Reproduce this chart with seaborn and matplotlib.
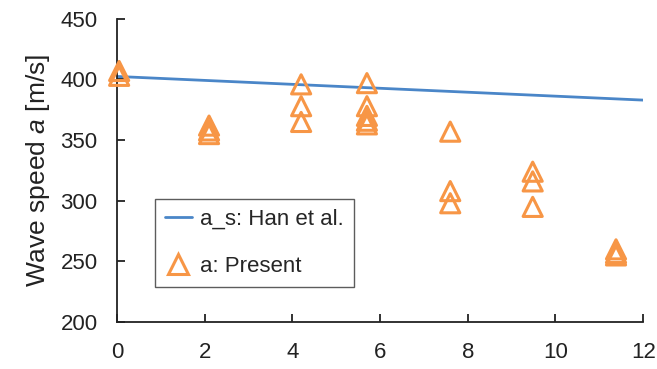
import matplotlib
matplotlib.use("Agg")
import matplotlib.pyplot as plt
import pandas as pd
import seaborn as sns
from matplotlib.lines import Line2D

# Han et al. reference line
han_x = [0, 12]
han_a = [402.5, 383]

# present results (open triangles)
present_x = [0.05, 0.05,
             2.1, 2.1, 2.1,
             4.2, 4.2, 4.2,
             5.7, 5.7, 5.7, 5.7, 5.7,
             7.6, 7.6, 7.6,
             9.48, 9.48, 9.48,
             11.38, 11.38, 11.38]
present_a = [407, 403,
             362, 358, 355,
             396, 378, 365,
             397, 378, 370, 366, 363,
             357, 308, 298,
             324, 316, 295,
             260, 257, 255]

BLUE = "#4a86c8"
ORANGE = "#f79646"
DARK = "#222222"

sns.set_style("white")
plt.rcParams["font.family"] = ["Liberation Sans", "DejaVu Sans"]
plt.rcParams["mathtext.fontset"] = "custom"
plt.rcParams["mathtext.it"] = "Liberation Sans:italic"
plt.rcParams["mathtext.rm"] = "Liberation Sans"

fig = plt.figure(figsize=(6.57, 3.69), dpi=100)
ax = fig.add_axes([0.178, 0.127, 0.801, 0.822])

df_line = pd.DataFrame({"x": han_x, "a": han_a})
df_pts = pd.DataFrame({"x": present_x, "a": present_a})

sns.lineplot(data=df_line, x="x", y="a", color=BLUE, lw=2, ax=ax, legend=False)
sns.scatterplot(data=df_pts, x="x", y="a", marker="^", s=190,
                facecolors="none", edgecolor=ORANGE, linewidth=2.2,
                ax=ax, legend=False, clip_on=False, zorder=3)

ax.set_xlim(0, 12)
ax.set_ylim(200, 450)
ax.set_xticks(range(0, 13, 2))
ax.set_yticks(range(200, 451, 50))
ax.set_xlabel("")
ax.set_ylabel("Wave speed $a$ [m/s]", fontsize=19, color=DARK, labelpad=6)

for s in ["top", "right"]:
    ax.spines[s].set_visible(False)
for s in ["left", "bottom"]:
    ax.spines[s].set_color(DARK)
    ax.spines[s].set_linewidth(1.3)

ax.tick_params(axis="both", direction="in", length=6, width=1.3,
               bottom=True, left=True,
               color=DARK, labelsize=16, labelcolor=DARK)
ax.tick_params(axis="x", pad=14)
ax.tick_params(axis="y", pad=14)

handles = [
    Line2D([], [], color=BLUE, lw=2),
    Line2D([], [], marker="^", ls="none", markersize=14, markerfacecolor="none",
           markeredgecolor=ORANGE, markeredgewidth=2.2),
]
leg = ax.legend(handles, ["a_s: Han et al.", "a: Present"],
                loc="lower left", bbox_to_anchor=(0.072, 0.115),
                fontsize=16, frameon=True, fancybox=False, labelspacing=1.2,
                handlelength=1.2, handletextpad=0.4, borderpad=0.45,
                borderaxespad=0, edgecolor="#333333")
leg.get_frame().set_linewidth(1.0)

fig.savefig("out.png", dpi=100)
